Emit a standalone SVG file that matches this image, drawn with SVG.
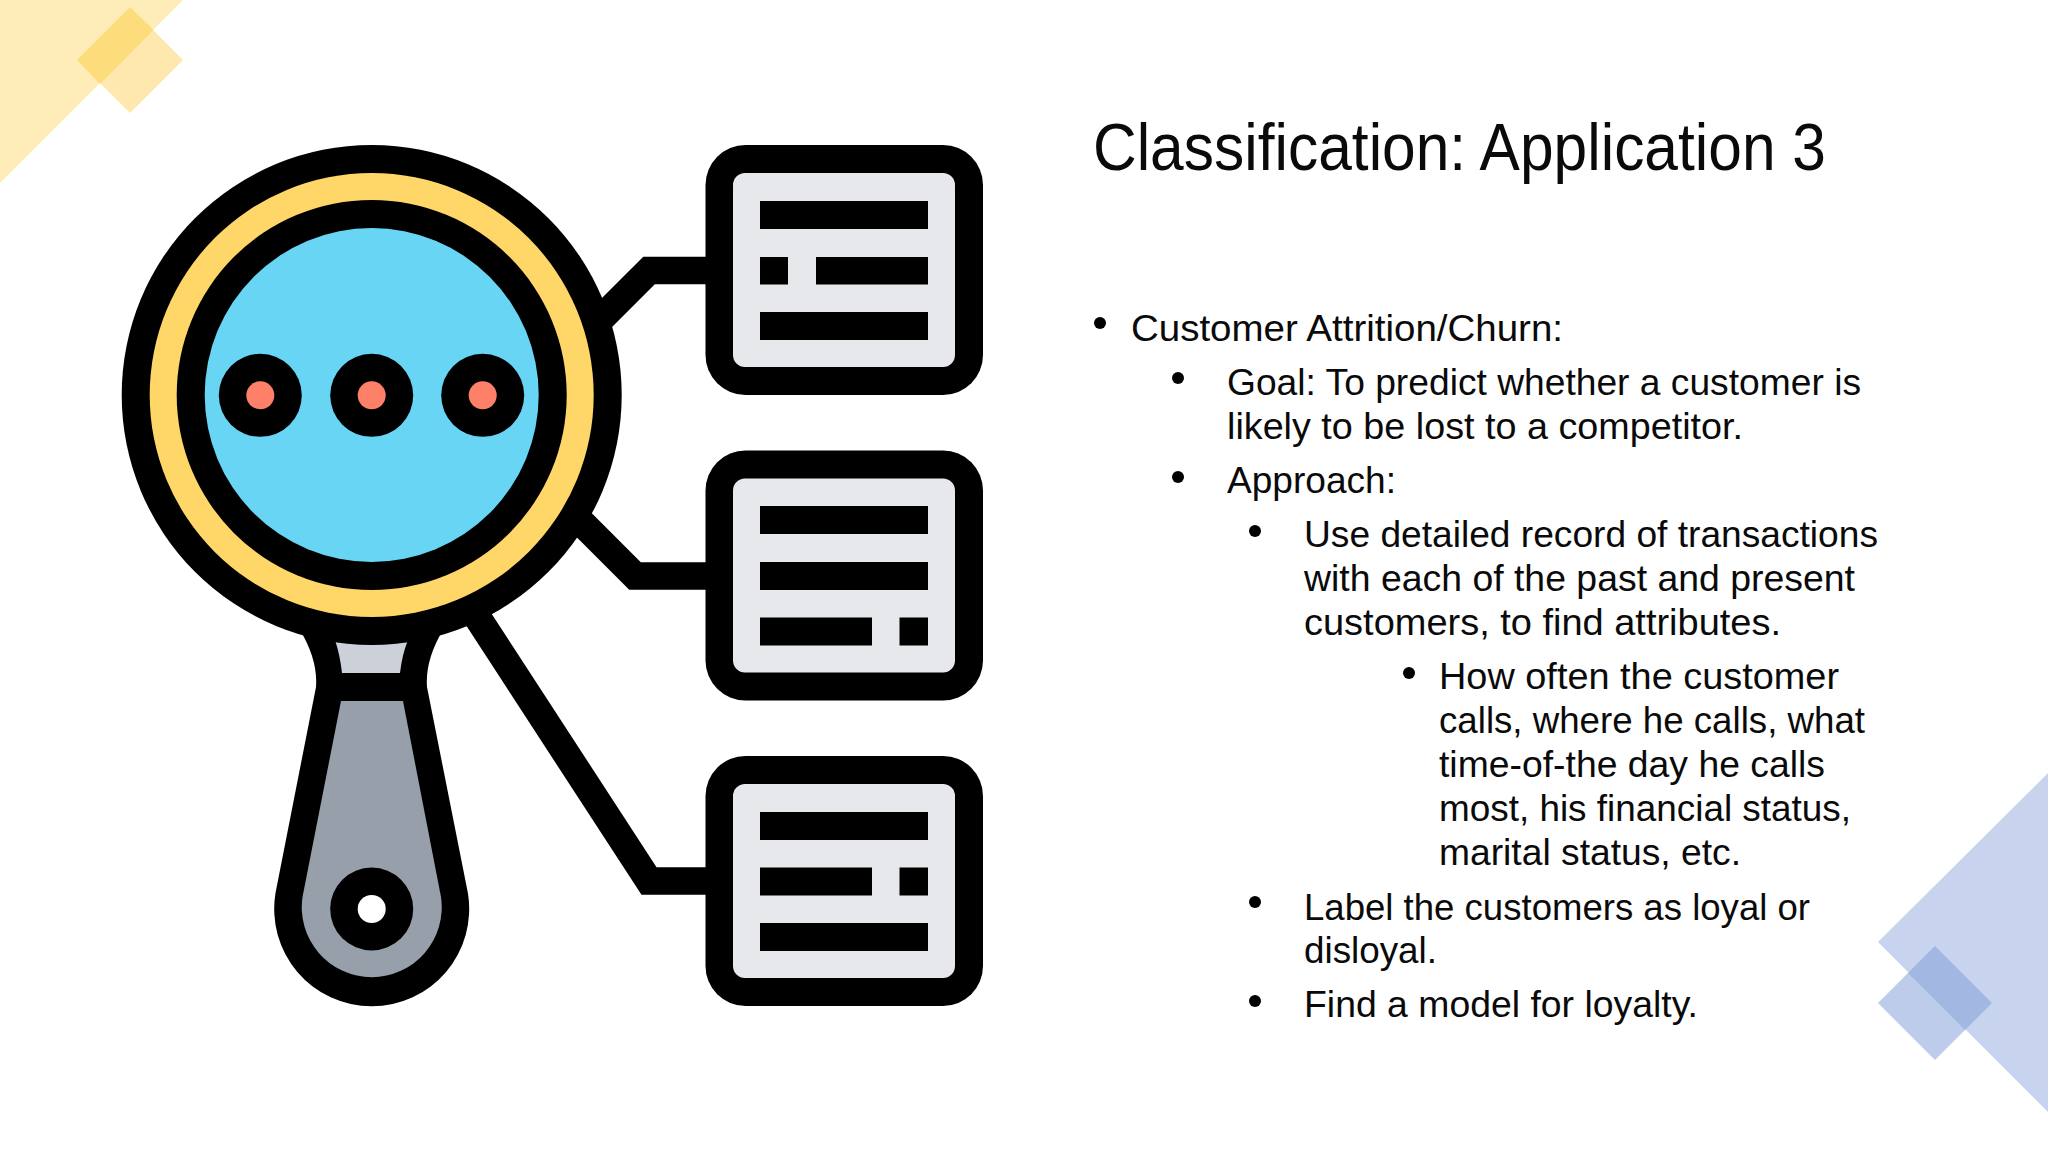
<svg xmlns="http://www.w3.org/2000/svg" width="2048" height="1152" viewBox="0 0 2048 1152">
<style>
text{font-family:"Liberation Sans",Arial,sans-serif;fill:#0a0a0a;font-size:37px}
#title{font-size:66px}
.k{fill:#000}
.frame{fill:#000}
.paper{fill:#E6E8EB}
.wire{fill:none;stroke:#000;stroke-width:27.7;stroke-linejoin:miter}
.dot{fill:#000}
</style>
<defs>
<g id="cardbase">
<rect class="frame" x="705.5" y="0" width="277.5" height="250" rx="40"/>
<rect class="paper" x="733" y="28" width="222" height="194" rx="12"/>
</g>
</defs>
<rect width="2048" height="1152" fill="#fff"/>
<g id="decor">
<polygon points="0,0 183,0 0,183" fill="#FEEDB8"/>
<polygon points="130,7 183,60 130,113 77,60" fill="#FEE8AE"/>
<polygon points="130,7 153.500,30 100,84 77,60" fill="#FDDD7B"/>
<polygon points="2048,773 1878,942 2048,1112" fill="#C8D4EE"/>
<polygon points="1935,946 1992,1003 1935,1060 1878,1003" fill="#BECCEB"/>
<polygon points="1935,946 1992,1003 1965,1030 1908,973" fill="#A2B7E1"/>
</g>
<g id="connectors">
<path class="wire" d="M590,329.500 L649,270.500 L720,270.500"/>
<path class="wire" d="M565,506 L635,576 L720,576"/>
<path class="wire" d="M470,606 L649,881 L720,881"/>
</g>
<g id="magnifier">
<path class="k" d="M300,630 Q318,660 316,687 L275.500,893 A97.500,97.500 0 1 0 467.900,893 L427,687 Q425,660 443,630 Z"/>
<path fill="#CCD1D9" d="M335,640 L408,640 Q402,655 400,673 L342,673 Q340,655 335,640 Z"/>
<path fill="#969FAA" d="M341,701 L302.500,897 A70,70 0 1 0 441,897 L403,701 Z"/>
<circle class="k" cx="371.700" cy="909" r="41.500"/>
<circle cx="371.700" cy="909" r="14" fill="#fff"/>
<circle class="k" cx="371.700" cy="395" r="250"/>
<circle cx="371.700" cy="395" r="222" fill="#FFD768"/>
<circle class="k" cx="371.700" cy="395" r="195"/>
<circle cx="371.700" cy="395" r="167" fill="#69D5F5"/>
<circle class="k" cx="260.300" cy="395.300" r="41.500"/>
<circle cx="260.300" cy="395.300" r="14" fill="#FF8068"/>
<circle class="k" cx="371.700" cy="395.300" r="41.500"/>
<circle cx="371.700" cy="395.300" r="14" fill="#FF8068"/>
<circle class="k" cx="482.700" cy="395.300" r="41.500"/>
<circle cx="482.700" cy="395.300" r="14" fill="#FF8068"/>
</g>
<g id="card1">
<use href="#cardbase" y="145"/>
<rect class="k" x="760" y="201" width="168" height="28"/>
<rect class="k" x="760" y="257" width="28" height="27.500"/>
<rect class="k" x="816" y="257" width="112" height="27.500"/>
<rect class="k" x="760" y="312" width="168" height="28"/>
</g>
<g id="card2">
<use href="#cardbase" y="450.500"/>
<rect class="k" x="760" y="506" width="168" height="28"/>
<rect class="k" x="760" y="562" width="168" height="28"/>
<rect class="k" x="760" y="617.500" width="112" height="28"/>
<rect class="k" x="899.500" y="617.500" width="28.500" height="28"/>
</g>
<g id="card3">
<use href="#cardbase" y="756"/>
<rect class="k" x="760" y="812" width="168" height="28"/>
<rect class="k" x="760" y="867.500" width="112" height="28"/>
<rect class="k" x="899.500" y="867.500" width="28.500" height="28"/>
<rect class="k" x="760" y="923" width="168" height="28"/>
</g>
<g id="heading">
<text id="title" x="1093" y="170" textLength="733" lengthAdjust="spacingAndGlyphs">Classification: Application 3</text>
</g>
<g id="bullets">
<circle class="dot" cx="1100" cy="323" r="6"/>
<text x="1131" y="340.500" textLength="432" lengthAdjust="spacingAndGlyphs">Customer Attrition/Churn:</text>
<circle class="dot" cx="1178" cy="378" r="6"/>
<text x="1227" y="394.500" textLength="634" lengthAdjust="spacingAndGlyphs">Goal: To predict whether a customer is</text>
<text x="1227" y="438.500" textLength="516" lengthAdjust="spacingAndGlyphs">likely to be lost to a competitor.</text>
<circle class="dot" cx="1178" cy="477" r="6"/>
<text x="1227" y="493" textLength="169" lengthAdjust="spacingAndGlyphs">Approach:</text>
<circle class="dot" cx="1255" cy="531" r="6"/>
<text x="1304" y="547" textLength="574" lengthAdjust="spacingAndGlyphs">Use detailed record of transactions</text>
<text x="1304" y="591" textLength="551" lengthAdjust="spacingAndGlyphs">with each of the past and present</text>
<text x="1304" y="634.500" textLength="477" lengthAdjust="spacingAndGlyphs">customers, to find attributes.</text>
<circle class="dot" cx="1409" cy="673" r="6"/>
<text x="1439" y="689" textLength="400" lengthAdjust="spacingAndGlyphs">How often the customer</text>
<text x="1439" y="733" textLength="426" lengthAdjust="spacingAndGlyphs">calls, where he calls, what</text>
<text x="1439" y="777" textLength="386" lengthAdjust="spacingAndGlyphs">time-of-the day he calls</text>
<text x="1439" y="821" textLength="412" lengthAdjust="spacingAndGlyphs">most, his financial status,</text>
<text x="1439" y="865" textLength="302" lengthAdjust="spacingAndGlyphs">marital status, etc.</text>
<circle class="dot" cx="1255" cy="902" r="6"/>
<text x="1304" y="919.500" textLength="506" lengthAdjust="spacingAndGlyphs">Label the customers as loyal or</text>
<text x="1304" y="963" textLength="133" lengthAdjust="spacingAndGlyphs">disloyal.</text>
<circle class="dot" cx="1255" cy="1001" r="6"/>
<text x="1304" y="1017" textLength="394" lengthAdjust="spacingAndGlyphs">Find a model for loyalty.</text>
</g>
</svg>
